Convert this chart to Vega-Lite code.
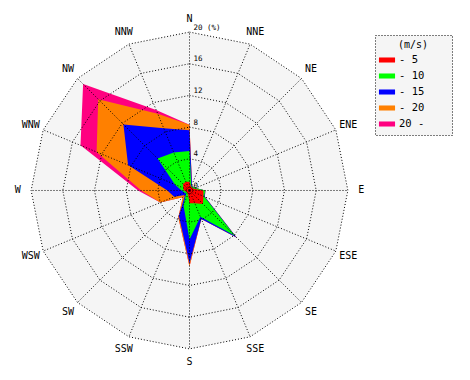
{
  "$schema": "https://vega.github.io/schema/vega-lite/v6.json",
  "width": 470,
  "height": 380,
  "autosize": {"type": "none"},
  "padding": 0,
  "background": "white",
  "config": {"view": {"stroke": null}, "legend": {"strokeDash": [1, 2]}},
  "datasets": {
    "dirs": [
      {"dir": "N", "deg": 0}, {"dir": "NNE", "deg": 22.5}, {"dir": "NE", "deg": 45}, {"dir": "ENE", "deg": 67.5},
      {"dir": "E", "deg": 90}, {"dir": "ESE", "deg": 112.5}, {"dir": "SE", "deg": 135}, {"dir": "SSE", "deg": 157.5},
      {"dir": "S", "deg": 180}, {"dir": "SSW", "deg": 202.5}, {"dir": "SW", "deg": 225}, {"dir": "WSW", "deg": 247.5},
      {"dir": "W", "deg": 270}, {"dir": "WNW", "deg": 292.5}, {"dir": "NW", "deg": 315}, {"dir": "NNW", "deg": 337.5}
    ],
    "rings": [
      {"r": 4, "deg": [0, 22.5, 45, 67.5, 90, 112.5, 135, 157.5, 180, 202.5, 225, 247.5, 270, 292.5, 315, 337.5]},
      {"r": 8, "deg": [0, 22.5, 45, 67.5, 90, 112.5, 135, 157.5, 180, 202.5, 225, 247.5, 270, 292.5, 315, 337.5]},
      {"r": 12, "deg": [0, 22.5, 45, 67.5, 90, 112.5, 135, 157.5, 180, 202.5, 225, 247.5, 270, 292.5, 315, 337.5]},
      {"r": 16, "deg": [0, 22.5, 45, 67.5, 90, 112.5, 135, 157.5, 180, 202.5, 225, 247.5, 270, 292.5, 315, 337.5]},
      {"r": 20, "deg": [0, 22.5, 45, 67.5, 90, 112.5, 135, 157.5, 180, 202.5, 225, 247.5, 270, 292.5, 315, 337.5]}
    ],
    "rlabels": [
      {"r": 0, "t": "0"}, {"r": 4, "t": "4"}, {"r": 8, "t": "8"}, {"r": 12, "t": "12"}, {"r": 16, "t": "16"}, {"r": 20, "t": "20 (%)"}
    ],
    "wind": [
      {"cls": "20 -", "dir": "N", "v": 8.3}, {"cls": "20 -", "dir": "NNE", "v": 0.8}, {"cls": "20 -", "dir": "NE", "v": 0.6}, {"cls": "20 -", "dir": "ENE", "v": 0.8},
      {"cls": "20 -", "dir": "E", "v": 2.0}, {"cls": "20 -", "dir": "ESE", "v": 2.1}, {"cls": "20 -", "dir": "SE", "v": 8.4}, {"cls": "20 -", "dir": "SSE", "v": 3.9},
      {"cls": "20 -", "dir": "S", "v": 9.6}, {"cls": "20 -", "dir": "SSW", "v": 3.7}, {"cls": "20 -", "dir": "SW", "v": 1.2}, {"cls": "20 -", "dir": "WSW", "v": 4.0},
      {"cls": "20 -", "dir": "W", "v": 6.5}, {"cls": "20 -", "dir": "WNW", "v": 14.9}, {"cls": "20 -", "dir": "NW", "v": 19.0}, {"cls": "20 -", "dir": "NNW", "v": 11.0},

      {"cls": "- 20", "dir": "N", "v": 8.3}, {"cls": "- 20", "dir": "NNE", "v": 0.8}, {"cls": "- 20", "dir": "NE", "v": 0.6}, {"cls": "- 20", "dir": "ENE", "v": 0.8},
      {"cls": "- 20", "dir": "E", "v": 2.0}, {"cls": "- 20", "dir": "ESE", "v": 2.1}, {"cls": "- 20", "dir": "SE", "v": 8.4}, {"cls": "- 20", "dir": "SSE", "v": 3.9},
      {"cls": "- 20", "dir": "S", "v": 9.6}, {"cls": "- 20", "dir": "SSW", "v": 3.7}, {"cls": "- 20", "dir": "SW", "v": 1.2}, {"cls": "- 20", "dir": "WSW", "v": 4.0},
      {"cls": "- 20", "dir": "W", "v": 6.1}, {"cls": "- 20", "dir": "WNW", "v": 12.7}, {"cls": "- 20", "dir": "NW", "v": 16.3}, {"cls": "- 20", "dir": "NNW", "v": 10.5},

      {"cls": "- 15", "dir": "N", "v": 7.6}, {"cls": "- 15", "dir": "NNE", "v": 0.8}, {"cls": "- 15", "dir": "NE", "v": 0.6}, {"cls": "- 15", "dir": "ENE", "v": 0.8},
      {"cls": "- 15", "dir": "E", "v": 2.0}, {"cls": "- 15", "dir": "ESE", "v": 2.1}, {"cls": "- 15", "dir": "SE", "v": 8.4}, {"cls": "- 15", "dir": "SSE", "v": 3.9},
      {"cls": "- 15", "dir": "S", "v": 9.2}, {"cls": "- 15", "dir": "SSW", "v": 3.5}, {"cls": "- 15", "dir": "SW", "v": 0.8}, {"cls": "- 15", "dir": "WSW", "v": 2.1},
      {"cls": "- 15", "dir": "W", "v": 2.8}, {"cls": "- 15", "dir": "WNW", "v": 8.4}, {"cls": "- 15", "dir": "NW", "v": 11.8}, {"cls": "- 15", "dir": "NNW", "v": 8.5},

      {"cls": "- 10", "dir": "N", "v": 5.0}, {"cls": "- 10", "dir": "NNE", "v": 0.6}, {"cls": "- 10", "dir": "NE", "v": 0.6}, {"cls": "- 10", "dir": "ENE", "v": 0.8},
      {"cls": "- 10", "dir": "E", "v": 2.0}, {"cls": "- 10", "dir": "ESE", "v": 2.0}, {"cls": "- 10", "dir": "SE", "v": 8.1}, {"cls": "- 10", "dir": "SSE", "v": 3.6},
      {"cls": "- 10", "dir": "S", "v": 6.2}, {"cls": "- 10", "dir": "SSW", "v": 2.0}, {"cls": "- 10", "dir": "SW", "v": 0.6}, {"cls": "- 10", "dir": "WSW", "v": 0.7},
      {"cls": "- 10", "dir": "W", "v": 1.0}, {"cls": "- 10", "dir": "WNW", "v": 2.0}, {"cls": "- 10", "dir": "NW", "v": 5.7}, {"cls": "- 10", "dir": "NNW", "v": 5.2},

      {"cls": "- 5", "dir": "N", "v": 1.1}, {"cls": "- 5", "dir": "NNE", "v": 0.5}, {"cls": "- 5", "dir": "NE", "v": 0.5}, {"cls": "- 5", "dir": "ENE", "v": 0.6},
      {"cls": "- 5", "dir": "E", "v": 1.75}, {"cls": "- 5", "dir": "ESE", "v": 1.9}, {"cls": "- 5", "dir": "SE", "v": 2.4}, {"cls": "- 5", "dir": "SSE", "v": 1.75},
      {"cls": "- 5", "dir": "S", "v": 1.6}, {"cls": "- 5", "dir": "SSW", "v": 0.5}, {"cls": "- 5", "dir": "SW", "v": 0.4}, {"cls": "- 5", "dir": "WSW", "v": 0.4},
      {"cls": "- 5", "dir": "W", "v": 0.7}, {"cls": "- 5", "dir": "WNW", "v": 0.85}, {"cls": "- 5", "dir": "NW", "v": 1.15}, {"cls": "- 5", "dir": "NNW", "v": 1.2}
    ]
  },
  "layer": [
    {
      "data": {"name": "rings"},
      "transform": [
        {"filter": "datum.r == 20"},
        {"flatten": ["deg"]},
        {"calculate": "datum.r * sin(datum.deg * PI / 180)", "as": "x"},
        {"calculate": "datum.r * cos(datum.deg * PI / 180)", "as": "y"}
      ],
      "mark": {"type": "line", "interpolate": "linear-closed", "filled": true, "color": "#f5f5f5", "strokeOpacity": 0},
      "encoding": {
        "x": {"field": "x", "type": "quantitative", "scale": {"domain": [-23.93, 35.42], "nice": false, "zero": false}, "axis": null},
        "y": {"field": "y", "type": "quantitative", "scale": {"domain": [-23.93, 24.05], "nice": false, "zero": false}, "axis": null},
        "order": {"field": "deg", "type": "quantitative"}
      }
    },
    {
      "data": {"name": "wind"},
      "transform": [
        {"lookup": "dir", "from": {"data": {"name": "dirs"}, "key": "dir", "fields": ["deg"]}},
        {"calculate": "datum.v * sin(datum.deg * PI / 180)", "as": "x"},
        {"calculate": "datum.v * cos(datum.deg * PI / 180)", "as": "y"}
      ],
      "mark": {"type": "line", "interpolate": "linear-closed", "filled": true, "strokeOpacity": 0},
      "encoding": {
        "x": {"field": "x", "type": "quantitative", "scale": {"domain": [-23.93, 35.42], "nice": false, "zero": false}, "axis": null},
        "y": {"field": "y", "type": "quantitative", "scale": {"domain": [-23.93, 24.05], "nice": false, "zero": false}, "axis": null},
        "order": {"field": "deg", "type": "quantitative"},
        "color": {
          "field": "cls",
          "type": "nominal",
          "scale": {"domain": ["- 5", "- 10", "- 15", "- 20", "20 -"], "range": ["#ff0000", "#00ff00", "#0000ff", "#ff8000", "#ff0080"]},
          "legend": {
            "orient": "none",
            "legendX": 375,
            "legendY": 35,
            "title": "(m/s)",
            "titleFont": "DejaVu Sans Mono",
            "titleFontSize": 10,
            "titleFontWeight": "normal",
            "titleColor": "black",
            "titleAnchor": "middle",
            "titlePadding": 3,
            "labelFont": "DejaVu Sans Mono",
            "labelFontSize": 10.5,
            "labelColor": "black",
            "labelOffset": 5,
            "labelExpr": "datum.label + '\u2007\u2800\u2800'",
            "symbolType": "M-1.15,-0.36H1.15V0.36H-1.15Z",
            "symbolSize": 196,
            "symbolStrokeWidth": 0,
            "symbolOpacity": 1,
            "rowPadding": 3,
            "padding": 5,
            "strokeColor": "black",
            "fillColor": "#f5f5f5"
          }
        }
      }
    },
    {
      "data": {"name": "rings"},
      "transform": [
        {"flatten": ["deg"]},
        {"calculate": "datum.r * sin(datum.deg * PI / 180)", "as": "x"},
        {"calculate": "datum.r * cos(datum.deg * PI / 180)", "as": "y"}
      ],
      "mark": {"type": "line", "interpolate": "linear-closed", "color": "black", "strokeWidth": 1, "strokeDash": [1, 2]},
      "encoding": {
        "x": {"field": "x", "type": "quantitative", "scale": {"domain": [-23.93, 35.42], "nice": false, "zero": false}, "axis": null},
        "y": {"field": "y", "type": "quantitative", "scale": {"domain": [-23.93, 24.05], "nice": false, "zero": false}, "axis": null},
        "detail": {"field": "r", "type": "nominal"},
        "order": {"field": "deg", "type": "quantitative"}
      }
    },
    {
      "data": {"name": "dirs"},
      "transform": [
        {"calculate": "0", "as": "ox"},
        {"calculate": "0", "as": "oy"},
        {"calculate": "20 * sin(datum.deg * PI / 180)", "as": "ex"},
        {"calculate": "20 * cos(datum.deg * PI / 180)", "as": "ey"}
      ],
      "mark": {"type": "rule", "color": "black", "strokeWidth": 1, "strokeDash": [1, 2]},
      "encoding": {
        "x": {"field": "ox", "type": "quantitative", "scale": {"domain": [-23.93, 35.42], "nice": false, "zero": false}, "axis": null},
        "y": {"field": "oy", "type": "quantitative", "scale": {"domain": [-23.93, 24.05], "nice": false, "zero": false}, "axis": null},
        "x2": {"field": "ex"},
        "y2": {"field": "ey"}
      }
    },
    {
      "data": {"name": "dirs"},
      "transform": [
        {"calculate": "21.7 * sin(datum.deg * PI / 180)", "as": "x"},
        {"calculate": "21.7 * cos(datum.deg * PI / 180)", "as": "y"}
      ],
      "mark": {"type": "text", "font": "DejaVu Sans Mono", "fontSize": 10, "color": "black", "align": "center", "baseline": "middle"},
      "encoding": {
        "x": {"field": "x", "type": "quantitative", "scale": {"domain": [-23.93, 35.42], "nice": false, "zero": false}, "axis": null},
        "y": {"field": "y", "type": "quantitative", "scale": {"domain": [-23.93, 24.05], "nice": false, "zero": false}, "axis": null},
        "text": {"field": "dir"}
      }
    },
    {
      "data": {"name": "rlabels"},
      "transform": [
        {"calculate": "0", "as": "ox"}
      ],
      "mark": {"type": "text", "font": "DejaVu Sans Mono", "fontSize": 7.5, "color": "black", "align": "left", "baseline": "middle", "dx": 4, "dy": -4.5},
      "encoding": {
        "x": {"field": "ox", "type": "quantitative", "scale": {"domain": [-23.93, 35.42], "nice": false, "zero": false}, "axis": null},
        "y": {"field": "r", "type": "quantitative", "scale": {"domain": [-23.93, 24.05], "nice": false, "zero": false}, "axis": null},
        "text": {"field": "t"}
      }
    }
  ]
}
